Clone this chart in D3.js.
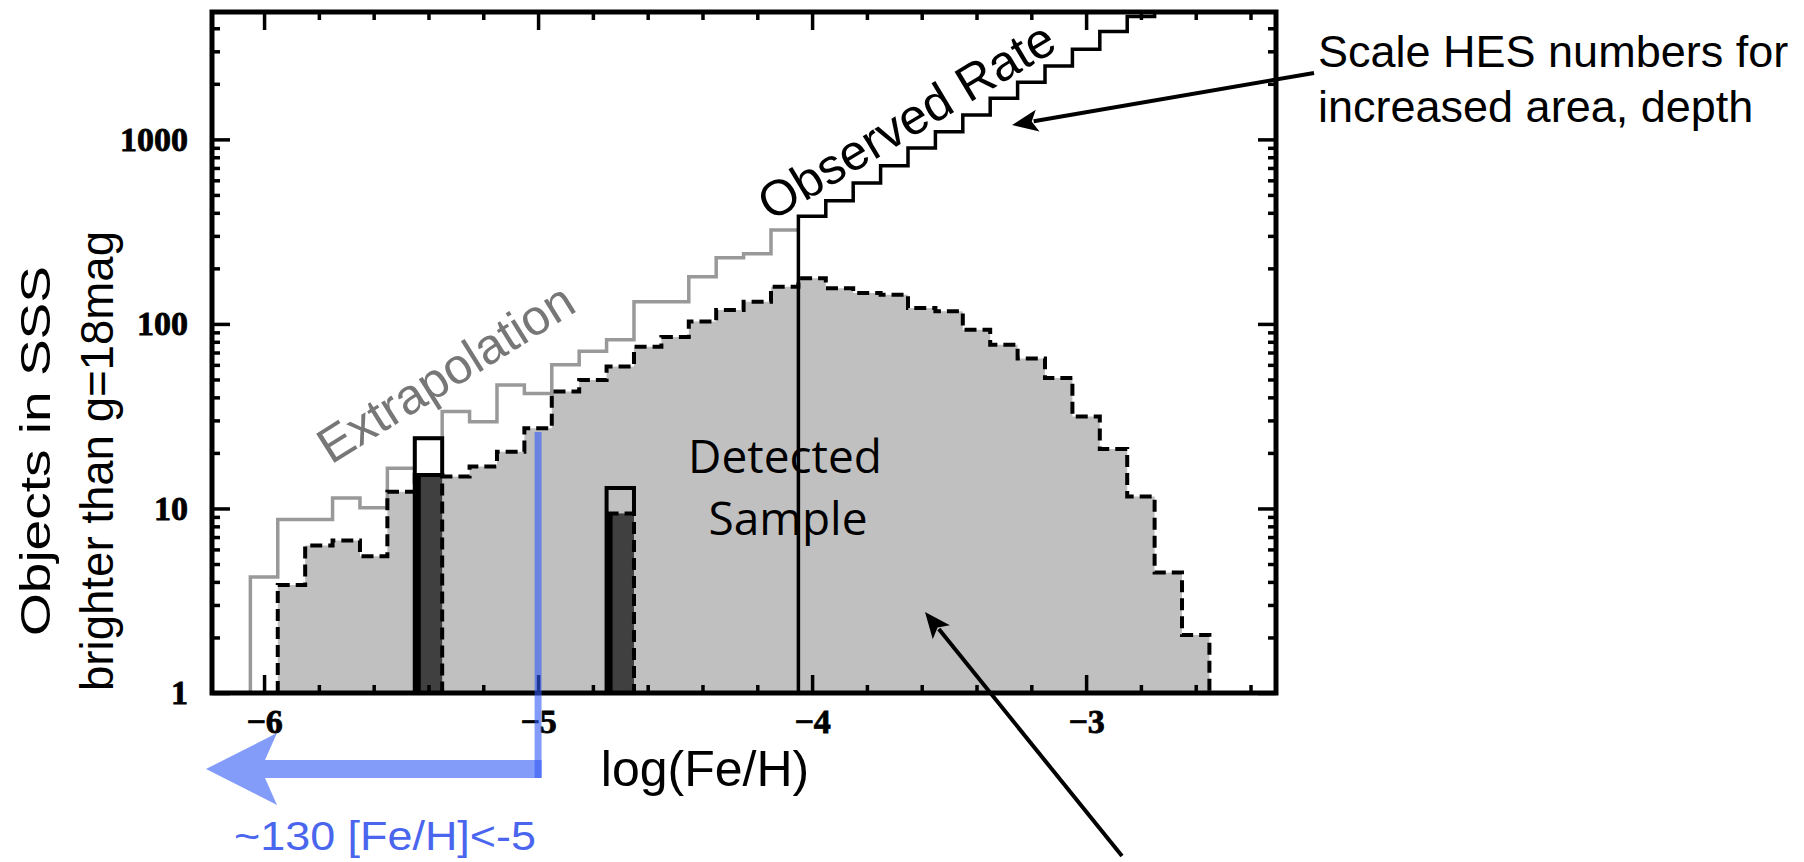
<!DOCTYPE html>
<html>
<head>
<meta charset="utf-8">
<script src="https://cdn.jsdelivr.net/npm/d3@7"></script>
<style>
  html, body { margin: 0; padding: 0; background: #fff; }
  svg { display: block; }
</style>
</head>
<body>
<svg id="chart" width="1804" height="862"></svg>
<script>
// ---------------- data ----------------
const binWidth = 0.1;

// Solid grey "Extrapolation" histogram (bin centres, log(Fe/H))
const extrapBins   = [-6.0, -5.9, -5.8, -5.7, -5.6, -5.5, -5.4, -5.3, -5.2, -5.1,
                      -5.0, -4.9, -4.8, -4.7, -4.6, -4.5, -4.4, -4.3, -4.2, -4.1];
const extrapValues = [4.25, 8.7, 8.7, 11.4, 10.1, 16.5, 24, 33.5, 29.5, 46.7,
                      42, 60, 71, 82, 132, 132, 180, 228, 240, 323];

// Solid black "Observed Rate" histogram
const observedBins   = [-4.0, -3.9, -3.8, -3.7, -3.6, -3.5, -3.4, -3.3, -3.2, -3.1,
                        -3.0, -2.9, -2.8, -2.7];
const observedValues = [383, 465, 580, 720, 897, 1100, 1357, 1670, 2040, 2500,
                        3080, 3840, 4630, 5800];

// Dashed, grey-filled "Detected Sample" histogram
const detectedBins   = [-5.9, -5.8, -5.7, -5.6, -5.5, -5.4, -5.3, -5.2, -5.1, -5.0,
                        -4.9, -4.8, -4.7, -4.6, -4.5, -4.4, -4.3, -4.2, -4.1, -4.0,
                        -3.9, -3.8, -3.7, -3.6, -3.5, -3.4, -3.3, -3.2, -3.1, -3.0,
                        -2.9, -2.8, -2.7, -2.6];
const detectedValues = [3.85, 6.3, 6.7, 5.5, 12.3, 15.2, 14.9, 16.9, 20.3, 27.2,
                        43, 49.7, 58.7, 75.3, 85, 103, 119, 132, 159, 177,
                        156, 147, 144, 122, 117, 93, 77, 65, 51, 31.5,
                        21, 11.6, 4.5, 2.06];

// HES stars: open boxes (scaled) and dark bars (found)
const hesBins   = [-5.4, -4.7];
const hesScaled = [24, 12.9];
const hesFound  = [15.2, 9.4];

// [Fe/H] = -5 cut marker
const cutValue = -5.0;
const cutTop   = 26;

// axis ticks
const xTickValues = [-6, -5, -4, -3];
const yTickValues = [1, 10, 100, 1000];

// ---------------- layout ----------------
const svg = d3.select("#chart");
const plot = { left: 212, right: 1276, top: 12, bottom: 693 };

const x = d3.scaleLinear().domain([-6.19, -2.307]).range([plot.left, plot.right]);
const y = d3.scaleLog().domain([1, 4900]).range([plot.bottom, plot.top]);

svg.append("defs").append("clipPath").attr("id", "clip")
  .append("rect")
  .attr("x", plot.left).attr("y", plot.top)
  .attr("width", plot.right - plot.left).attr("height", plot.bottom - plot.top);

const line = d3.line().x(d => x(d[0])).y(d => y(d[1]));

// build step points in data space
function stepPoints(bins, values, startFromBase, endAtBase) {
  const pts = [];
  const h = binWidth / 2;
  if (startFromBase) pts.push([bins[0] - h, 1]);
  bins.forEach((b, i) => {
    pts.push([b - h, values[i]]);
    pts.push([b + h, values[i]]);
  });
  if (endAtBase) pts.push([bins[bins.length - 1] + h, 1]);
  return pts;
}

const g = svg.append("g").attr("clip-path", "url(#clip)");

// Detected sample: grey fill
const detPts = stepPoints(detectedBins, detectedValues, true, true);
g.append("path").attr("d", line(detPts) + "Z")
  .attr("fill", "#c0c0c0").attr("stroke", "none");

// Extrapolation grey line
g.append("path").attr("d", line(stepPoints(extrapBins, extrapValues, true, false)))
  .attr("fill", "none").attr("stroke", "#999").attr("stroke-width", 3.5);

// Observed rate black line
g.append("path").attr("d", line(stepPoints(observedBins, observedValues, true, false)))
  .attr("fill", "none").attr("stroke", "#000").attr("stroke-width", 3.5);

// HES boxes and bars
hesBins.forEach((b, i) => {
  const x0 = x(b - binWidth / 2), x1 = x(b + binWidth / 2);
  // open box outline
  g.append("path")
    .attr("d", line([[b - binWidth / 2, 1], [b - binWidth / 2, hesScaled[i]],
                     [b + binWidth / 2, hesScaled[i]], [b + binWidth / 2, hesFound[i]]]))
    .attr("fill", "none").attr("stroke", "#000").attr("stroke-width", 4);
  // dark bar
  g.append("rect")
    .attr("x", x0 + 2).attr("y", y(hesFound[i]))
    .attr("width", x1 - x0 - 2).attr("height", y(1) - y(hesFound[i]))
    .attr("fill", "#404040");
  g.append("line")
    .attr("x1", x0 + 3).attr("x2", x0 + 3)
    .attr("y1", y(1)).attr("y2", y(hesFound[i]))
    .attr("stroke", "#000").attr("stroke-width", 6);
  g.append("path")
    .attr("d", line([[b - binWidth / 2, hesFound[i]], [b + binWidth / 2, hesFound[i]],
                     [b + binWidth / 2, 1]]))
    .attr("fill", "none").attr("stroke", "#000").attr("stroke-width", 4)
    .attr("stroke-dasharray", "12,6");
});

// Detected sample dashed outline
g.append("path").attr("d", line(detPts))
  .attr("fill", "none").attr("stroke", "#000").attr("stroke-width", 4)
  .attr("stroke-dasharray", "12,6");

// ---------------- axes ----------------
const fmt = d3.format("");
const minorX = d3.range(-31, -11).map(i => +(i * 0.2).toFixed(1))
  .filter(v => v > -6.19 && v < -2.31 && Math.abs(v - Math.round(v)) > 1e-6);
const minorY = [];
[1, 10, 100, 1000].forEach(p => [2, 3, 4, 5, 6, 7, 8, 9].forEach(m => {
  if (m * p < 4900) minorY.push(m * p);
}));

function styleAxis(sel) {
  sel.select(".domain").remove();
  sel.selectAll(".tick line").attr("stroke", "#000").attr("stroke-width", 3.5);
  sel.selectAll(".tick text")
    .attr("fill", "#000")
    .attr("stroke", "#000").attr("stroke-width", 0.8)
    .style("font-family", "'Liberation Serif', 'Times New Roman', serif")
    .style("font-weight", "bold")
    .style("font-size", "34px");
}

svg.append("g").attr("transform", `translate(0,${plot.bottom})`)
  .call(d3.axisBottom(x).tickValues(xTickValues).tickSizeInner(-18).tickSizeOuter(0)
        .tickPadding(16).tickFormat(fmt)).call(styleAxis);
svg.append("g").attr("transform", `translate(0,${plot.bottom})`)
  .call(d3.axisBottom(x).tickValues(minorX).tickSizeInner(-8).tickSizeOuter(0)
        .tickFormat("")).call(styleAxis);
svg.append("g").attr("transform", `translate(0,${plot.top})`)
  .call(d3.axisTop(x).tickValues(xTickValues).tickSizeInner(-18).tickSizeOuter(0)
        .tickFormat("")).call(styleAxis);
svg.append("g").attr("transform", `translate(0,${plot.top})`)
  .call(d3.axisTop(x).tickValues(minorX).tickSizeInner(-8).tickSizeOuter(0)
        .tickFormat("")).call(styleAxis);

svg.append("g").attr("transform", `translate(${plot.left},0)`)
  .call(d3.axisLeft(y).tickValues(yTickValues).tickSizeInner(-18).tickSizeOuter(0)
        .tickPadding(24).tickFormat(d3.format("d"))).call(styleAxis);
svg.append("g").attr("transform", `translate(${plot.left},0)`)
  .call(d3.axisLeft(y).tickValues(minorY).tickSizeInner(-8).tickSizeOuter(0)
        .tickFormat("")).call(styleAxis);
svg.append("g").attr("transform", `translate(${plot.right},0)`)
  .call(d3.axisRight(y).tickValues(yTickValues).tickSizeInner(-18).tickSizeOuter(0)
        .tickFormat("")).call(styleAxis);
svg.append("g").attr("transform", `translate(${plot.right},0)`)
  .call(d3.axisRight(y).tickValues(minorY).tickSizeInner(-8).tickSizeOuter(0)
        .tickFormat("")).call(styleAxis);

// frame
svg.append("rect")
  .attr("x", plot.left).attr("y", plot.top)
  .attr("width", plot.right - plot.left).attr("height", plot.bottom - plot.top)
  .attr("fill", "none").attr("stroke", "#000").attr("stroke-width", 5);

// ---------------- blue cut marker ----------------
const blue = "rgba(50,90,245,0.6)";
const cx = x(cutValue);
svg.append("line")
  .attr("x1", cx).attr("x2", cx).attr("y1", y(cutTop)).attr("y2", 778)
  .attr("stroke", blue).attr("stroke-width", 7);
svg.append("path")
  .attr("d", `M${cx + 3.5},760 L265,760 L277,733 L206,769 L277,805 L265,778 L${cx + 3.5},778 Z`)
  .attr("fill", blue);

// ---------------- texts ----------------
const sans = "'Liberation Sans', Arial, Helvetica, sans-serif";

svg.append("text").attr("x", 234).attr("y", 850)
  .attr("textLength", 302).attr("lengthAdjust", "spacingAndGlyphs")
  .style("font-family", sans).style("font-size", "41px").attr("fill", "#4a66ee")
  .text("~130 [Fe/H]<-5");

svg.append("text").attr("x", 705).attr("y", 786)
  .attr("text-anchor", "middle")
  .style("font-family", sans).style("font-size", "50px").attr("fill", "#000")
  .text("log(Fe/H)");

// y axis title (two lines, rotated)
svg.append("text").attr("transform", "translate(50,451) rotate(-90)")
  .attr("text-anchor", "middle").attr("textLength", 370).attr("lengthAdjust", "spacingAndGlyphs")
  .style("font-family", sans).style("font-size", "43px").attr("fill", "#000")
  .text("Objects in SSS");
svg.append("text").attr("transform", "translate(113,461) rotate(-90)")
  .attr("text-anchor", "middle").attr("textLength", 460).attr("lengthAdjust", "spacingAndGlyphs")
  .style("font-family", sans).style("font-size", "46px").attr("fill", "#000")
  .text("brighter than g=18mag");

// rotated series labels
svg.append("text").attr("transform", "translate(331,465) rotate(-32)")
  .style("font-family", sans).style("font-size", "50px").attr("fill", "#777")
  .text("Extrapolation");
svg.append("text").attr("transform", "translate(771,222) rotate(-31)")
  .style("font-family", sans).style("font-size", "50px").attr("fill", "#000")
  .text("Observed Rate");

// Detected sample label
const openSans = "'Open Sans', 'Noto Sans', sans-serif";
svg.append("text").attr("x", 785).attr("y", 473).attr("text-anchor", "middle")
  .style("font-family", openSans).style("font-size", "46px").attr("fill", "#000")
  .text("Detected");
svg.append("text").attr("x", 788).attr("y", 535).attr("text-anchor", "middle")
  .style("font-family", openSans).style("font-size", "46px").attr("fill", "#000")
  .text("Sample");

// annotation text
svg.append("text").attr("x", 1318).attr("y", 67)
  .style("font-family", sans).style("font-size", "45px").attr("fill", "#000")
  .text("Scale HES numbers for");
svg.append("text").attr("x", 1318).attr("y", 122)
  .style("font-family", sans).style("font-size", "45px").attr("fill", "#000")
  .text("increased area, depth");

// arrows
function arrow(x1, y1, x2, y2) {
  const ang = Math.atan2(y2 - y1, x2 - x1);
  const L = 26, W = 11;
  const bx = x2 - L * Math.cos(ang), by = y2 - L * Math.sin(ang);
  svg.append("line").attr("x1", x1).attr("y1", y1)
    .attr("x2", x2 - (L - 4) * Math.cos(ang)).attr("y2", y2 - (L - 4) * Math.sin(ang))
    .attr("stroke", "#000").attr("stroke-width", 4);
  const nx = -Math.sin(ang), ny = Math.cos(ang);
  const nbx = x2 - (L - 6) * Math.cos(ang), nby = y2 - (L - 6) * Math.sin(ang);
  svg.append("path")
    .attr("d", `M${x2},${y2} L${bx + W * nx},${by + W * ny} L${nbx},${nby} L${bx - W * nx},${by - W * ny} Z`)
    .attr("fill", "#000");
}
arrow(1314, 73, 1012, 125);
arrow(1122, 856, 925, 612);
</script>
</body>
</html>
